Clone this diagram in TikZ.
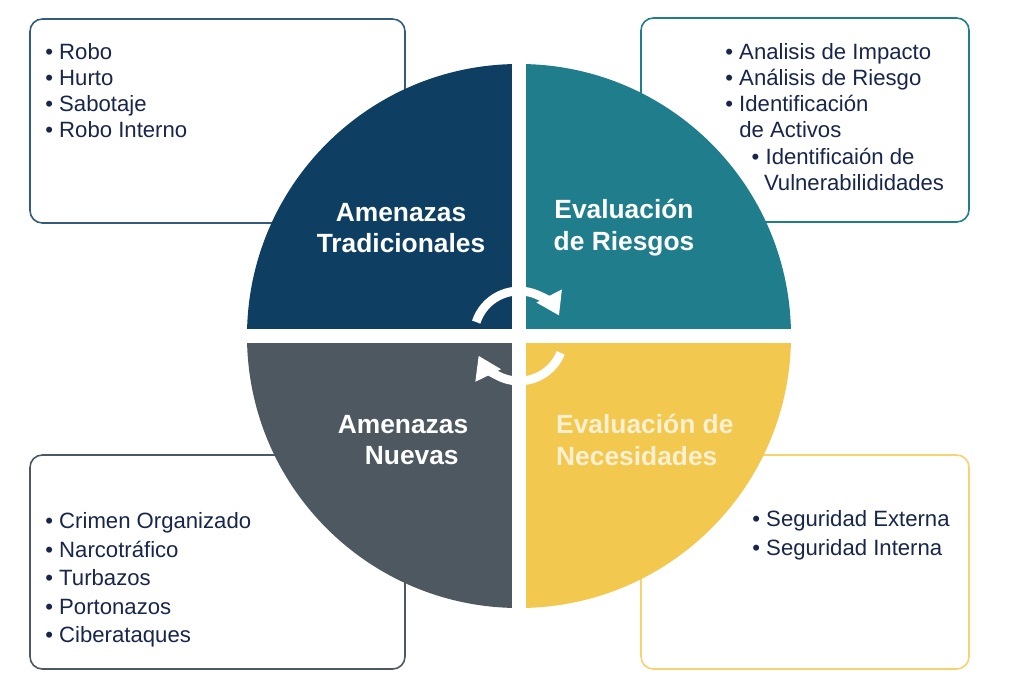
\documentclass[tikz,border=0pt]{standalone}
\usepackage{fontspec}
\setmainfont{Liberation Sans}
\usepackage{tikz}
\usetikzlibrary{arrows.meta}
\definecolor{marino}{HTML}{0E3F63}
\definecolor{petroleo}{HTML}{1F7D8C}
\definecolor{pizarra}{HTML}{4E5861}
\definecolor{mostaza}{HTML}{F2C84E}
\definecolor{tinta}{HTML}{17264A}
\definecolor{crema}{HTML}{FBF0D2}
\tikzset{
	caja/.style={rounded corners=7pt, line width=0.9pt, fill=white},
	lista/.style={anchor=north west, align=left, inner sep=0pt, text=tinta},
	titulo/.style={align=center, text=white, font=\fontsize{15}{18.1}\selectfont\bfseries},
	giro/.style={white, line width=5pt, -{Triangle[length=0.44cm,width=0.54cm]}}
}
\begin{document}
\begin{tikzpicture}[x=0.02cm,y=-0.02cm]
		\useasboundingbox (0,0) rectangle (1024,683);
		\draw[caja, draw=marino!85] (30,19) rectangle (405,223) ;
		\draw[caja, draw=petroleo] (641,18) rectangle (969,222) ;
		\draw[caja, draw=pizarra] (30,455) rectangle (405,669) ;
		\draw[caja, draw=mostaza!80!white] (641,455) rectangle (969,669) ;
		\coordinate (O) at (519,336) ;
		\fill[marino] (O) -- ++(180:272) arc (180:270:272) -- cycle ;
		\fill[petroleo] (O) -- ++(270:272) arc (270:360:272) -- cycle ;
		\fill[mostaza] (O) -- ++(0:272) arc (0:90:272) -- cycle ;
		\fill[pizarra] (O) -- ++(90:272) arc (90:180:272) -- cycle ;
		\draw[white, line width=0.28cm] (519,50) -- (519,622) (236,336) -- (802,336) ;
		\draw[giro] (O) ++(198:45) arc (198:333:45) ;
		\draw[giro] (O) ++(22:45) arc (22:154:45) ;
		\node[titulo] (tA) at (401,228) {Amenazas\\Tradicionales} ;
		\node[titulo] (tB) at (624,228) {Evaluación\\de Riesgos} ;
		\node[titulo] (tC) at (403,440) {Amenazas\\\hspace*{10pt}Nuevas} ;
		\node[titulo, text=crema, align=left, anchor=west] (tD) at (550,440) {Evaluación de\\Necesidades} ;
		\node[lista, font=\fontsize{12.6}{14.9}\selectfont] (A) at (45,43) {• Robo\\• Hurto\\• Sabotaje\\• Robo Interno} ;
		\node[lista, font=\fontsize{12.6}{14.9}\selectfont] (B) at (725,43) {• Analisis de Impacto\\• Análisis de Riesgo\\• Identificación\\\phantom{•\ }de Activos\\\hspace*{15pt}• Identificaión de\\\hspace*{22pt}Vulnerabilididades} ;
		\node[lista, font=\fontsize{12.6}{16.3}\selectfont] (C) at (45,512) {• Crimen Organizado\\• Narcotráfico\\• Turbazos\\• Portonazos\\• Ciberataques} ;
		\node[lista, font=\fontsize{12.6}{16.4}\selectfont] (D) at (752,510) {• Seguridad Externa\\• Seguridad Interna} ;
	\end{tikzpicture}
\end{document}
